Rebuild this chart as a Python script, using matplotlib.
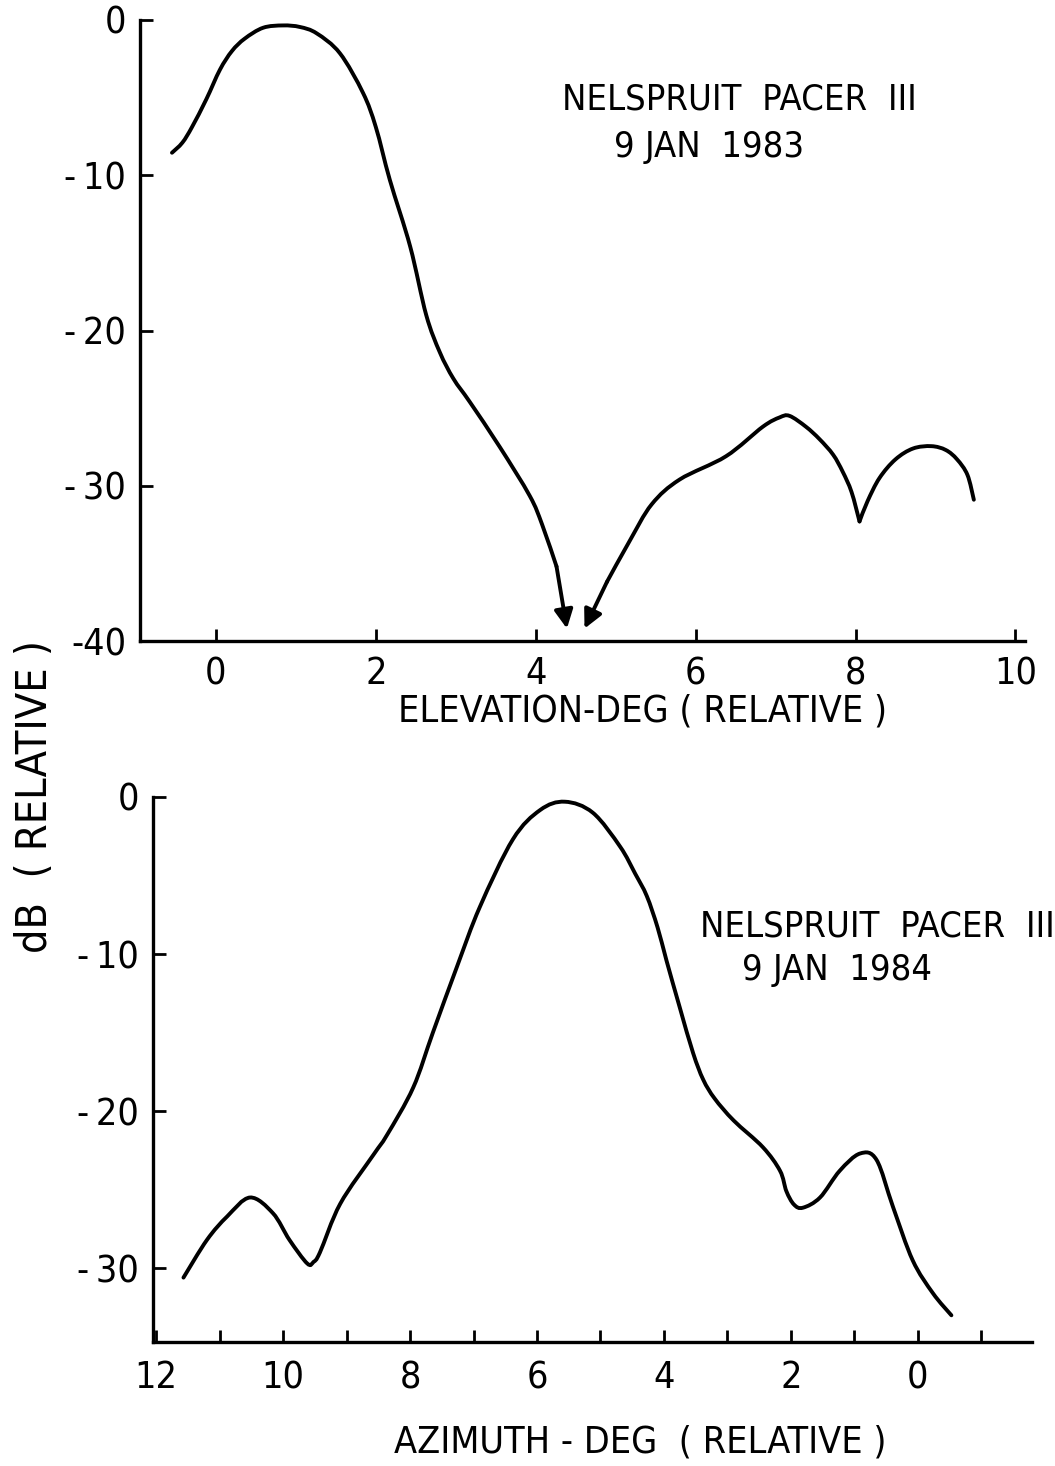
import matplotlib
matplotlib.use('Agg')
import matplotlib.pyplot as plt
from matplotlib.path import Path
from matplotlib.patches import PathPatch

plt.rcParams['font.family'] = ['DejaVu Sans']
plt.rcParams['font.stretch'] = 'condensed'

# elevation scan (top); the null is marked by two arrows
elev_left_x = [-0.55, -0.42, -0.3, -0.12, 0.05, 0.2, 0.36, 0.59, 0.84, 1.05, 1.26, 1.55,
               1.84, 2.0, 2.175, 2.43, 2.63, 2.8, 2.97, 3.175, 3.55, 3.925, 4.08, 4.26, 4.39]
elev_left_y = [-8.55, -7.9, -6.9, -5.1, -3.2, -2.0, -1.2, -0.5, -0.35, -0.45, -0.86, -2.14,
               -4.7, -6.9, -10.3, -14.6, -19.0, -21.4, -23.1, -24.6, -27.5, -30.65, -32.5, -35.2, -39.2]
elev_right_x = [4.61, 4.89, 5.17, 5.45, 5.8, 6.38, 6.84, 7.05, 7.175, 7.38, 7.55, 7.72,
                7.84, 7.95, 8.05, 8.15, 8.3, 8.5, 8.72, 8.95, 9.13, 9.27, 9.4, 9.48]
elev_right_y = [-39.2, -36.2, -33.6, -31.2, -29.6, -28.1, -26.2, -25.6, -25.5, -26.2, -27.0, -28.0,
                -29.1, -30.4, -32.3, -31.0, -29.5, -28.3, -27.6, -27.45, -27.7, -28.3, -29.3, -30.9]
elev_cusp = 14  # index of the sharp dip near 8 deg in elev_right

# azimuth scan (bottom), x axis runs from 12 down to 0
azim_x = [11.57, 11.2, 10.88, 10.52, 10.16, 9.9, 9.62, 9.52, 9.42, 9.1, 8.58, 8.36, 7.95,
          7.64, 7.26, 6.9, 6.38, 5.95, 5.56, 5.12, 4.69, 4.45, 4.27, 4.1, 3.96, 3.75, 3.54, 3.38,
          3.2, 2.9, 2.44, 2.17, 2.07, 1.95, 1.81, 1.54, 1.23, 0.91, 0.65, 0.39, 0.08, -0.24, -0.53]
azim_y = [-30.6, -28.2, -26.7, -25.5, -26.5, -28.2, -29.7, -29.6, -29.0, -25.9, -22.8, -21.5, -18.5,
          -15.0, -10.8, -7.0, -2.7, -0.83, -0.3, -1.0, -3.16, -4.9, -6.3, -8.3, -10.4, -13.4, -16.3, -18.0,
          -19.2, -20.6, -22.3, -23.8, -25.1, -25.95, -26.15, -25.5, -23.8, -22.7, -23.1, -26.1, -29.5, -31.6, -33.0]

elev_ticks = [0, 2, 4, 6, 8, 10]
top_yticks = [0, -10, -20, -30, -40]
top_ylabels = ['0', '-\u200910', '-\u200920', '-\u200930', '-40']
azim_major = [12, 10, 8, 6, 4, 2, 0]
azim_minor = [11, 9, 7, 5, 3, 1, -1]
bot_yticks = [0, -10, -20, -30]
bot_ylabels = ['0', '-\u200910', '-\u200920', '-\u200930']

W, H = 1055, 1466
fig = plt.figure(figsize=(W / 100, H / 100), dpi=100)
lw = 2.8
fs = 27


def style(ax):
    for s in ['top', 'right']:
        ax.spines[s].set_visible(False)
    for s in ['left', 'bottom']:
        ax.spines[s].set_linewidth(2.4)
    ax.tick_params(which='both', direction='in', length=9, width=2.0, labelsize=fs, pad=10)


def smooth(ax, xs, ys):
    # draw a smooth curve through the read points (Catmull-Rom as cubic Bezier)
    pts = list(zip(xs, ys))
    verts = [pts[0]]
    codes = [Path.MOVETO]
    n = len(pts)
    for i in range(n - 1):
        p0 = pts[max(i - 1, 0)]
        p1 = pts[i]
        p2 = pts[i + 1]
        p3 = pts[min(i + 2, n - 1)]
        c1 = (p1[0] + (p2[0] - p0[0]) / 6, p1[1] + (p2[1] - p0[1]) / 6)
        c2 = (p2[0] - (p3[0] - p1[0]) / 6, p2[1] - (p3[1] - p1[1]) / 6)
        verts += [c1, c2, p2]
        codes += [Path.CURVE4] * 3
    ax.add_patch(PathPatch(Path(verts, codes), fill=False, edgecolor='k', lw=lw, capstyle='round'))


def arrow(ax, tip, tail):
    ax.annotate('', xy=tip, xytext=tail,
                arrowprops=dict(arrowstyle='-|>', mutation_scale=28, lw=lw, color='k', shrinkA=0, shrinkB=0))


# top panel
ax1 = fig.add_axes([140 / W, 1 - 641 / H, (1025 - 140) / W, (641 - 20) / H])
style(ax1)
smooth(ax1, elev_left_x[:-1], elev_left_y[:-1])
smooth(ax1, elev_right_x[1:elev_cusp + 1], elev_right_y[1:elev_cusp + 1])
smooth(ax1, elev_right_x[elev_cusp:], elev_right_y[elev_cusp:])
arrow(ax1, (elev_left_x[-1], elev_left_y[-1]), (elev_left_x[-2], elev_left_y[-2]))
arrow(ax1, (elev_right_x[0], elev_right_y[0]), (elev_right_x[1], elev_right_y[1]))
ax1.set_xlim(-0.95, 10.12)
ax1.set_ylim(-40, 0)
ax1.set_xticks(elev_ticks)
ax1.set_xticklabels([str(t) for t in elev_ticks])
ax1.set_yticks(top_yticks)
ax1.set_yticklabels(top_ylabels)
ax1.tick_params(axis='x', pad=11)
ax1.text(0.477, 0.856, 'NELSPRUIT  PACER  III', transform=ax1.transAxes, fontsize=26)
ax1.text(0.536, 0.779, '9 JAN  1983', transform=ax1.transAxes, fontsize=26)

# bottom panel
ax2 = fig.add_axes([153 / W, 1 - 1342 / H, (1032 - 153) / W, (1342 - 797) / H])
style(ax2)
smooth(ax2, azim_x, azim_y)
ax2.set_xlim(12.05, -1.8)
ax2.set_ylim(-34.7, 0)
ax2.set_xticks(azim_major)
ax2.set_xticklabels([str(t) for t in azim_major])
ax2.set_xticks(azim_minor, minor=True)
ax2.tick_params(axis='x', pad=13)
ax2.set_yticks(bot_yticks)
ax2.set_yticklabels(bot_ylabels)
ax2.text(0.622, 0.744, 'NELSPRUIT  PACER  III', transform=ax2.transAxes, fontsize=26)
ax2.text(0.67, 0.664, '9 JAN  1984', transform=ax2.transAxes, fontsize=26)

# axis titles
fig.text(643 / W, 1 - 712 / H, 'ELEVATION-DEG ( RELATIVE )', ha='center', va='center', fontsize=27)
fig.text(640 / W, 1 - 1443 / H, 'AZIMUTH - DEG  ( RELATIVE )', ha='center', va='center', fontsize=27)
fig.text(35 / W, 1 - 797 / H, 'dB  ( RELATIVE )', ha='center', va='center', rotation=90, fontsize=31)

fig.savefig('out.png', dpi=100)
